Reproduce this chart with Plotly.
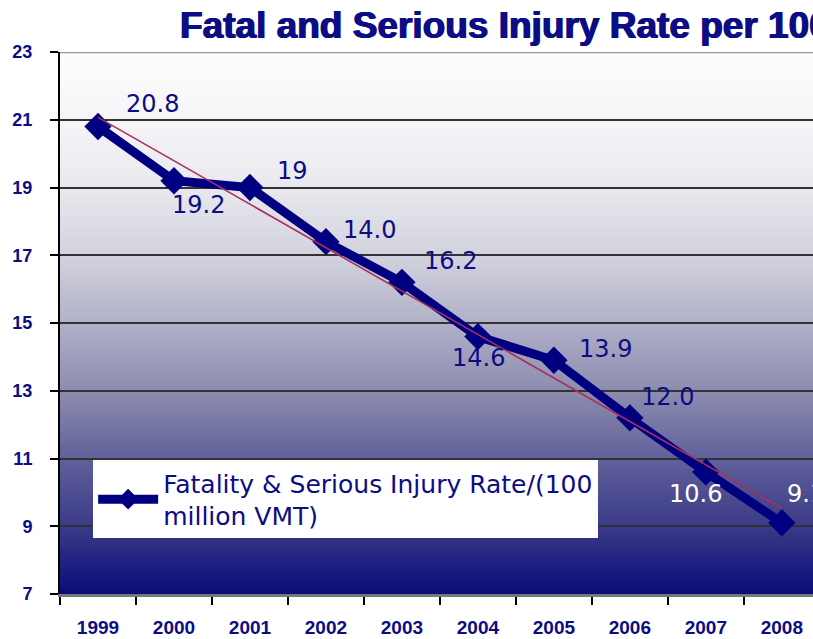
import numpy as np
import plotly.graph_objects as go

# ---- data ----
years = [1999, 2000, 2001, 2002, 2003, 2004, 2005, 2006, 2007, 2008]
rates = [20.8, 19.2, 19.0, 17.4, 16.2, 14.6, 13.9, 12.2, 10.6, 9.1]
point_labels = ["20.8", "19.2", "19", "14.0", "16.2", "14.6", "13.9", "12.0", "10.6", "9.1"]
y_ticks = [7, 9, 11, 13, 15, 17, 19, 21, 23]
series_name = "Fatality & Serious Injury Rate/(100<br>million VMT)"
title_text = "Fatal and Serious Injury Rate per 100 Million VMT"

NAVY = "#000080"
TXT = "#0c0c84"

# linear trend (least squares) of the series
coef = np.polyfit(years, rates, 1)
trend = np.polyval(coef, years)

fig = go.Figure()

fig.add_trace(go.Scatter(
    x=years, y=rates, mode="lines+markers", name=series_name,
    line=dict(color=NAVY, width=9),
    marker=dict(symbol="diamond", size=21, color=NAVY),
    cliponaxis=False,
))
fig.add_trace(go.Scatter(
    x=[years[0], years[-1]], y=[trend[0], trend[-1]], mode="lines",
    line=dict(color="#a8305c", width=1.6), showlegend=False, hoverinfo="skip",
))

# gradient background bands (each band drawn from the bottom up to its top edge so no seams show)
stops = [(7, (10, 10, 120)), (9, (58, 58, 136)), (11, (96, 96, 154)), (13, (140, 140, 176)),
         (15, (176, 176, 200)), (17, (210, 210, 222)), (19, (232, 232, 238)),
         (21, (245, 245, 248)), (23, (253, 253, 253))]
sv = [s[0] for s in stops]
shapes = []
nb = 120
edges = np.linspace(7, 23, nb + 1)
for i in range(nb):
    mid = (edges[i] + edges[i + 1]) / 2
    c = [int(round(np.interp(mid, sv, [s[1][k] for s in stops]))) for k in range(3)]
    shapes.append(dict(type="rect", xref="paper", yref="y", x0=0, x1=1,
                       y0=edges[i] - 0.03, y1=edges[i + 1] + 0.03, layer="below",
                       line=dict(width=0), fillcolor=f"rgb({c[0]},{c[1]},{c[2]})"))
shapes.append(dict(type="line", xref="paper", yref="y", x0=0, x1=1, y0=23, y1=23,
                   line=dict(color="#999999", width=2.5), layer="above"))

# data label offsets (pixels)
offs = [(55, 23), (25, -24), (43, 17), (44, 12), (49, 21), (1, -21), (52, 11), (38, 21), (-10, -22), (24, 29)]
label_colors = [TXT] * 8 + ["white", "white"]
annotations = []
for xv, yv, t, (dx, dy), col in zip(years, rates, point_labels, offs, label_colors):
    annotations.append(dict(x=xv, y=yv, text=t, showarrow=False, xshift=dx, yshift=dy,
                            font=dict(family="DejaVu Sans", size=24, color=col)))
annotations.append(dict(xref="paper", yref="paper", x=0.157, y=1.049, xanchor="left", yanchor="middle",
                        text="<b>" + title_text + "</b>", showarrow=False,
                        font=dict(family="Liberation Sans, Arial", size=37, color=TXT,
                                  shadow="0.7px 0 0 #0c0c84, -0.7px 0 0 #0c0c84")))

fig.update_layout(
    width=813, height=639,
    margin=dict(l=60, r=0, t=52, b=45),
    paper_bgcolor="white", plot_bgcolor="rgba(0,0,0,0)",
    shapes=shapes, annotations=annotations,
    showlegend=True,
    legend=dict(x=0.044, y=0.247, xanchor="left", yanchor="top",
                bgcolor="white", borderwidth=0,
                font=dict(family="DejaVu Sans", size=25, color=TXT),
                itemwidth=60),
    xaxis=dict(range=[1998.5, 2008.41], tickmode="array", tickvals=years,
               ticktext=[str(y) for y in years], ticks="", showgrid=False,
               showline=True, linecolor="#777777", linewidth=3,
               tickfont=dict(family="Liberation Sans, Arial", size=19, color=TXT, weight="bold"),
               ticklabelstandoff=14,
               minor=dict(ticks="outside", tick0=1998.5, dtick=1, ticklen=8, tickcolor="black", tickwidth=2),
               zeroline=False),
    yaxis=dict(range=[7, 23], tickmode="array", tickvals=y_ticks, ticks="outside", ticklen=8,
               tickcolor="black", tickwidth=2, showline=True, linecolor="black", linewidth=2,
               showgrid=True, gridcolor="#333333", gridwidth=1.5, zeroline=False,
               tickfont=dict(family="Liberation Sans, Arial", size=18, color=TXT, weight="bold"),
               ticklabelstandoff=14),
)

fig.write_html(
    "out.html",
    config={"displayModeBar": False},
    post_script="document.body.style.margin='0';document.documentElement.style.overflow='hidden';document.body.style.overflow='hidden';",
)
